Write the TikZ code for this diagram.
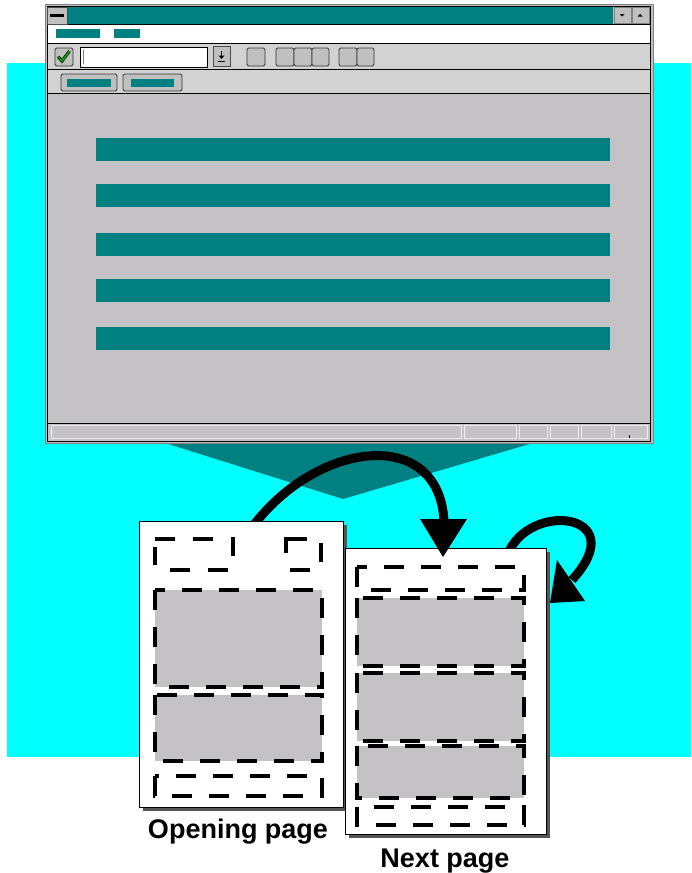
\documentclass[tikz,border=0pt]{standalone}
\usepackage{fontspec}
\setmainfont{Liberation Sans}
\definecolor{tealc}{HTML}{008080}
\definecolor{cyanc}{HTML}{00FFFF}
\definecolor{wingray}{HTML}{C4C2C4}
\definecolor{ltgray}{HTML}{D2D2D2}
\definecolor{btngray}{HTML}{C0C0C0}
\definecolor{shadowc}{HTML}{555555}
\definecolor{checkc}{HTML}{00C000}
\tikzset{
  dbox/.style={line width=3.3pt, dash pattern=on 20pt off 17pt},
  dseg/.style={line width=3.3pt},
  tbtn/.style={fill=btngray, draw=black!80, rounded corners=1.5pt, line width=0.8pt},
  page/.style={fill=white, draw=black, line width=0.8pt},
  bigarrow/.style={line width=9pt},
  lbl/.style={font=\bfseries\fontsize{27}{30}\selectfont, anchor=base, inner sep=0pt}
}
\begin{document}
\begin{tikzpicture}[x=1pt,y=-1pt]
\useasboundingbox (0,0) rectangle (691,873);
\fill[white] (0,0) rectangle (691,873);
\fill[cyanc] (7,63) rectangle (691,757);
% funnel
\fill[tealc] (165,443) -- (533,443) -- (343,499) -- cycle;
% window frame
\filldraw[fill=btngray, draw=gray, line width=0.8pt] (45,4) rectangle (653,443);
\draw[black, line width=0.8pt] (47,6) rectangle (650,441);
% title bar
\fill[tealc] (67,7) rectangle (613,24);
\draw[line width=1pt] (47,24) -- (650,24);
\filldraw[fill=btngray, draw=black!70, line width=0.6pt] (47,7) rectangle (67,24);
\fill (50,14) rectangle (64,16.5);
\filldraw[fill=btngray, draw=gray, line width=0.6pt] (614,7) rectangle (631,23);
\filldraw[fill=btngray, draw=gray, line width=0.6pt] (632,7) rectangle (649,23);
\fill (619.5,14) -- (624.5,14) -- (622,16.5) -- cycle;
\fill (637.5,16.5) -- (642.5,16.5) -- (640,14) -- cycle;
% menu bar
\fill[white] (48,25) rectangle (649.5,43);
\draw[line width=1pt] (47,43.5) -- (650,43.5);
\fill[tealc] (56,29) rectangle (100,38);
\fill[tealc] (114,29) rectangle (140,38);
% toolbar
\fill[ltgray] (48,44) rectangle (649.5,69);
\draw[line width=0.8pt] (47,69) -- (650,69);
\filldraw[tbtn] (55,48) rectangle (73,66);
\draw[line width=3pt, black] (58,56.5) -- (62,61) -- (69.5,51);
\draw[line width=1.4pt, checkc] (58,56.5) -- (62,61) -- (69.5,51);
\filldraw[fill=white, draw=black, line width=0.8pt] (80,47) rectangle (207,67);
\draw[gray, line width=0.8pt] (83,50) -- (83,64);
\filldraw[fill=btngray, draw=black!70, line width=0.8pt] (213,46) rectangle (230,66);
\draw[line width=0.8pt] (221.5,51) -- (221.5,56);
\fill (218.5,55.5) -- (224.5,55.5) -- (221.5,59) -- cycle;
\draw[line width=0.8pt] (218,61) -- (225,61);
\filldraw[tbtn] (247,48) rectangle (265,66);
\filldraw[tbtn] (276,48) rectangle (294,66);
\filldraw[tbtn] (294,48) rectangle (312,66);
\filldraw[tbtn] (312,48) rectangle (329,66);
\filldraw[tbtn] (339,48) rectangle (357,66);
\filldraw[tbtn] (357,48) rectangle (374,66);
% second toolbar
\fill[ltgray] (48,70) rectangle (649.5,93);
\draw[line width=0.8pt] (47,93.5) -- (650,93.5);
\filldraw[tbtn] (61,74) rectangle (117,91);
\fill[tealc] (67,79) rectangle (111,87);
\filldraw[tbtn] (123,74) rectangle (182,91);
\fill[tealc] (131,79) rectangle (174,87);
% main area
\fill[wingray] (48,94) rectangle (649.5,423);
\draw[line width=0.8pt] (47,423) -- (650,423);
\foreach \yy in {138,184,233,279,327} {
  \fill[tealc] (96,\yy) rectangle (610,\yy+23);
}
% status bar
\fill[wingray] (48,424) rectangle (649.5,440.5);
\foreach \a/\b in {51/461,464/516,519/547,550/578,581/611,614/647} {
  \draw[white!85!gray, line width=0.8pt] (\a,425) rectangle (\b,438);
}
\draw[line width=0.6pt] (629,435) -- (629,438);
% arrow shafts (behind pages)
\draw[bigarrow] (250,530) .. controls (315,440) and (440,425) .. (444,522);
\draw[bigarrow] (507,556) .. controls (527,500) and (634,512) .. (572,580);
% page 1
\fill[shadowc] (143,525) rectangle (347,811);
\filldraw[page] (139,521) rectangle (343,807);
% header of page 1 (segments)
\draw[dseg] (155,539) -- (175,539);
\draw[dseg] (193,539) -- (213,539);
\draw[dseg] (233,537) -- (233,556);
\draw[dseg] (286,553) -- (286,539) -- (307,539);
\draw[dseg] (321,543) -- (321,562);
\draw[dseg] (155,547) -- (155,565);
\draw[dseg] (170,570) -- (190,570);
\draw[dseg] (208,570) -- (228,570);
\draw[dseg] (290,570) -- (310,570);
\fill[wingray] (155,590) rectangle (322,687);
\draw[dbox] (155,590) rectangle (322,687);
\fill[wingray] (155,695) rectangle (322,761);
\draw[dbox] (155,695) rectangle (322,761);
\draw[dbox] (155,776) rectangle (322,796);
% page 2
\fill[shadowc] (349,552) rectangle (550,838);
\filldraw[page] (345,548) rectangle (546,834);
\draw[dbox] (357,567) rectangle (524,590);
\fill[wingray] (357,598) rectangle (524,666);
\draw[dbox] (357,598) rectangle (524,666);
\fill[wingray] (357,673) rectangle (524,741);
\draw[dbox] (357,673) rectangle (524,741);
\fill[wingray] (357,746) rectangle (524,798);
\draw[dbox] (357,746) rectangle (524,798);
\draw[dbox] (357,807) rectangle (524,825);
% arrowheads
\fill (420,519) -- (467,519) -- (443,557) -- cycle;
\fill (557,560) -- (585,601) -- (550,603) -- cycle;
% labels
\node[lbl] (openlbl) at (238,838) {Opening page};
\node[lbl] (nextlbl) at (445,867) {Next page};
\end{tikzpicture}
\end{document}
